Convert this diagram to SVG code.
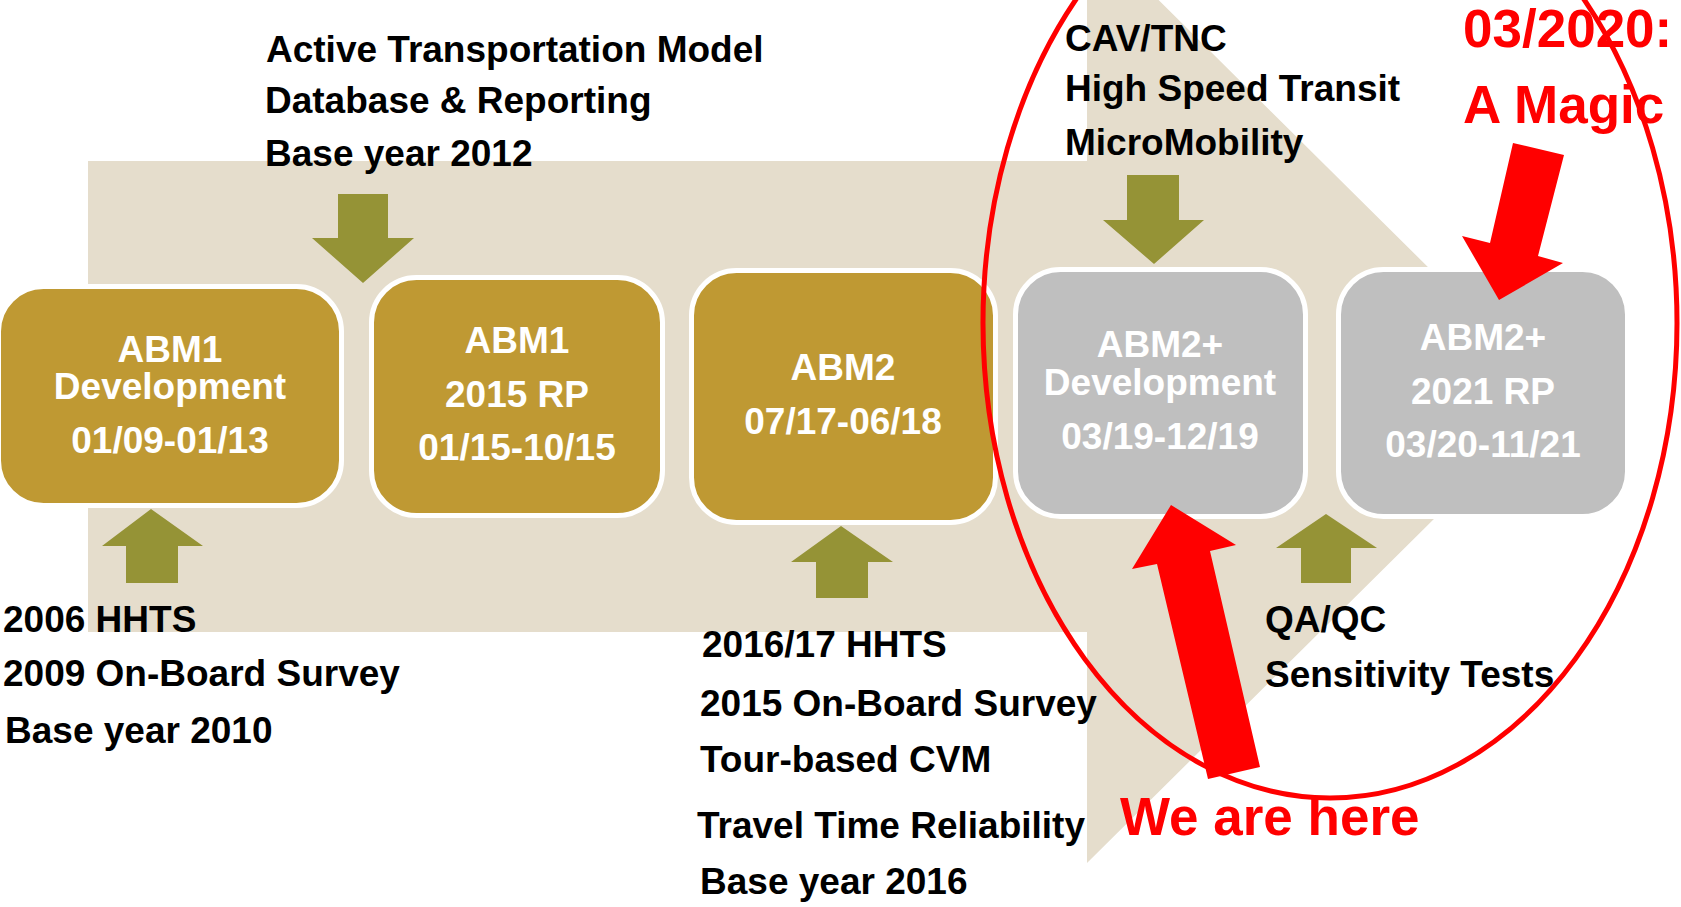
<svg xmlns="http://www.w3.org/2000/svg" width="1681" height="907" viewBox="0 0 1681 907">
<style>
text{font-family:"Liberation Sans",Arial,sans-serif;font-weight:bold;}
.lbl{font-size:37px;fill:#000;}
.bt{font-size:37px;fill:#fff;text-anchor:middle;}
.gold{fill:#BF9933;stroke:#fff;stroke-width:5;}
.gray{fill:#BFBFBF;stroke:#fff;stroke-width:5;}
.olive{fill:#959336;}
.red{fill:#FF0000;}
.rt{font-size:53px;fill:#FF0000;}
</style>
<rect width="1681" height="907" fill="#fff"/>
<g id="timeline-arrow">
<polygon points="88,161 1087,161 1087,-71 1558,396 1087,863 1087,632 88,632" fill="#E5DDCC"/>
</g>
<g id="labels">
<text class="lbl" x="266" y="62">Active Transportation Model</text>
<text class="lbl" x="265" y="113">Database &amp; Reporting</text>
<text class="lbl" x="265" y="166">Base year 2012</text>
<text class="lbl" x="1065" y="51">CAV/TNC</text>
<text class="lbl" x="1065" y="101">High Speed Transit</text>
<text class="lbl" x="1065" y="155">MicroMobility</text>
<text class="lbl" x="3" y="632">2006 HHTS</text>
<text class="lbl" x="3" y="686">2009 On-Board Survey</text>
<text class="lbl" x="5" y="743">Base year 2010</text>
<text class="lbl" x="702" y="657">2016/17 HHTS</text>
<text class="lbl" x="700" y="716">2015 On-Board Survey</text>
<text class="lbl" x="700" y="772">Tour-based CVM</text>
<text class="lbl" x="697" y="838">Travel Time Reliability</text>
<text class="lbl" x="700" y="894">Base year 2016</text>
<text class="lbl" x="1265" y="632">QA/QC</text>
<text class="lbl" x="1265" y="687">Sensitivity Tests</text>
</g>
<g id="box1">
<rect class="gold" x="-1.5" y="286.5" width="343" height="219" rx="45"/>
<text class="bt" x="170" y="362">ABM1</text>
<text class="bt" x="170" y="399">Development</text>
<text class="bt" x="170" y="453">01/09-01/13</text>
</g>
<g id="box2">
<rect class="gold" x="371.5" y="277.5" width="291" height="238" rx="45"/>
<text class="bt" x="517" y="353">ABM1</text>
<text class="bt" x="517" y="407">2015 RP</text>
<text class="bt" x="517" y="460">01/15-10/15</text>
</g>
<g id="box3">
<rect class="gold" x="691.5" y="270.5" width="304" height="252" rx="45"/>
<text class="bt" x="843" y="380">ABM2</text>
<text class="bt" x="843" y="434">07/17-06/18</text>
</g>
<g id="box4">
<rect class="gray" x="1015.5" y="269.5" width="290" height="247" rx="45"/>
<text class="bt" x="1160" y="357">ABM2+</text>
<text class="bt" x="1160" y="395">Development</text>
<text class="bt" x="1160" y="449">03/19-12/19</text>
</g>
<g id="box5">
<rect class="gray" x="1338.5" y="269.5" width="289" height="247" rx="45"/>
<text class="bt" x="1483" y="350">ABM2+</text>
<text class="bt" x="1483" y="404">2021 RP</text>
<text class="bt" x="1483" y="457">03/20-11/21</text>
</g>
<g id="connectors">
<polygon class="olive" points="338,194 388,194 388,238 414,238 363,283 312,238 338,238"/>
<polygon class="olive" points="1127,175 1179,175 1179,220 1204,220 1154,264 1103,220 1127,220"/>
<polygon class="olive" points="151,509 203,546 178,546 178,583 126,583 126,546 102,546"/>
<polygon class="olive" points="841,526 893,562 868,562 868,598 816,598 816,562 791,562"/>
<polygon class="olive" points="1326,514 1377,548 1351,548 1351,583 1301,583 1301,548 1276,548"/>
</g>
<g id="annotations">
<text class="rt" x="1463" y="47">03/2020:</text>
<text class="rt" x="1463" y="123">A Magic</text>
<text class="rt" x="1120" y="835">We are here</text>
<ellipse cx="1330" cy="323" rx="347" ry="475" fill="none" stroke="#FF0000" stroke-width="5"/>
<polygon class="red" points="1171,505 1236,545 1210,551 1260,767 1208,779 1157,564 1132,569"/>
<polygon class="red" points="1513,143 1564,155 1538,256 1563,263 1499,300 1462,236 1490,243"/>
</g>
</svg>
